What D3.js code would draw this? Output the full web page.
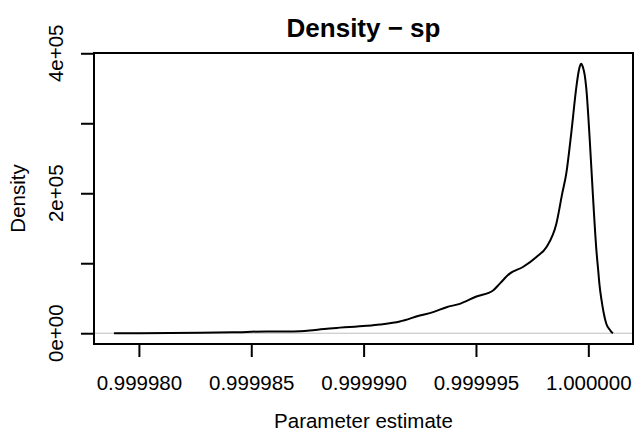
<!DOCTYPE html>
<html>
<head>
<meta charset="utf-8">
<script src="https://cdn.jsdelivr.net/npm/d3@7"></script>
<style>
  html, body { margin: 0; padding: 0; background: #fff; }
  svg { display: block; }
  text { font-family: "Liberation Sans", Arial, Helvetica, sans-serif; fill: #000; }
</style>
</head>
<body>
<script>
// ---- data ----
const title = "Density \u2212 sp";
const xLabel = "Parameter estimate";
const yLabel = "Density";

// parameter estimate values
const paramX = [
  0.99997889, 0.99998006, 0.99998139, 0.99998273, 0.99998420, 0.99998569,
  0.99998687, 0.99998775, 0.99998865, 0.99999013, 0.99999072, 0.99999161,
  0.99999250, 0.99999309, 0.99999369, 0.99999428, 0.99999502, 0.99999576,
  0.99999606, 0.99999650, 0.99999709, 0.99999769, 0.99999814, 0.99999858,
  0.99999884, 0.99999902, 0.99999924, 0.99999947, 0.99999955, 0.99999961,
  0.99999969, 0.99999976, 0.99999984, 0.99999991, 1.00000006, 1.00000020,
  1.00000036, 1.00000044, 1.00000050, 1.00000059, 1.00000068, 1.00000080,
  1.00000095, 1.00000104, 1.00000110
];
// density values
const densityY = [
  0, 100, 300, 600, 1300, 2600,
  2600, 4300, 7200, 10600, 12500, 16700,
  25300, 30100, 37200, 42000, 52500, 61100,
  70800, 85200, 94600, 108900, 123300, 156800,
  199800, 228400, 285700, 352400, 370400, 380000,
  385000, 380000, 368900, 349800, 278200, 199500,
  118400, 89800, 68300, 46800, 29600, 13500,
  5300, 1400, 0
];

const xTicks = [0.99998, 0.999985, 0.99999, 0.999995, 1.0];
const xTickLabels = ["0.999980", "0.999985", "0.999990", "0.999995", "1.000000"];
const yTicks = [0, 100000, 200000, 300000, 400000];
const yTickLabelValues = [0, 200000, 400000];
const yTickLabels = ["0e+00", "2e+05", "4e+05"];

// ---- layout ----
const W = 635, H = 431;
const box = { left: 94, right: 633, top: 53, bottom: 344 };

const svg = d3.select("body").append("svg")
  .attr("width", W).attr("height", H);

// R-style 4% padding of the data range
const xExt = d3.extent(paramX);
const xPad = (xExt[1] - xExt[0]) * 0.04;
const yExt = [0, d3.max(densityY)];
const yPad = (yExt[1] - yExt[0]) * 0.04;

const x = d3.scaleLinear()
  .domain([xExt[0] - xPad, xExt[1] + xPad])
  .range([box.left, box.right]);
const y = d3.scaleLinear()
  .domain([yExt[0] - yPad, yExt[1] + yPad])
  .range([box.bottom, box.top]);

// zero line (grey)
svg.append("line")
  .attr("x1", box.left).attr("x2", box.right)
  .attr("y1", y(0)).attr("y2", y(0))
  .attr("stroke", "#bebebe").attr("stroke-width", 1);

// density curve
const pts = paramX.map((v, i) => [v, densityY[i]]);
svg.append("path")
  .datum(pts)
  .attr("fill", "none")
  .attr("stroke", "#000")
  .attr("stroke-width", 2)
  .attr("stroke-linejoin", "round")
  .attr("d", d3.line().x(d => x(d[0])).y(d => y(d[1])).curve(d3.curveMonotoneX));

// plot box
svg.append("rect")
  .attr("x", box.left).attr("y", box.top)
  .attr("width", box.right - box.left).attr("height", box.bottom - box.top)
  .attr("fill", "none").attr("stroke", "#000").attr("stroke-width", 2);

// x axis
const xAxis = d3.axisBottom(x)
  .tickValues(xTicks)
  .tickSize(13)
  .tickSizeOuter(0)
  .tickPadding(0)
  .tickFormat(() => "");
const gx = svg.append("g")
  .attr("transform", `translate(0,${box.bottom})`)
  .call(xAxis);
gx.select(".domain")
  .attr("d", `M${x(xTicks[0])},0H${x(xTicks[xTicks.length - 1])}`)
  .attr("stroke", "#000").attr("stroke-width", 2);
gx.selectAll(".tick line").attr("stroke", "#000").attr("stroke-width", 2);
gx.selectAll(".tick").each(function(d, i) {
  d3.select(this).append("text")
    .attr("x", 0).attr("y", 390 - box.bottom)
    .attr("text-anchor", "middle")
    .style("font-size", "20.5px")
    .style("font-family", '"Liberation Sans", Arial, sans-serif')
    .attr("fill", "#000")
    .text(xTickLabels[i]);
});

// y axis
const yAxis = d3.axisLeft(y)
  .tickValues(yTicks)
  .tickSize(13)
  .tickSizeOuter(0)
  .tickFormat(() => "");
const gy = svg.append("g")
  .attr("transform", `translate(${box.left},0)`)
  .call(yAxis);
gy.select(".domain")
  .attr("d", `M0,${y(yTicks[0])}V${y(yTicks[yTicks.length - 1])}`)
  .attr("stroke", "#000").attr("stroke-width", 2);
gy.selectAll(".tick line").attr("stroke", "#000").attr("stroke-width", 2);

svg.append("g").selectAll("text")
  .data(yTickLabelValues)
  .join("text")
  .attr("transform", (d) => `translate(63,${y(d)}) rotate(-90)`)
  .attr("text-anchor", "middle")
  .style("font-size", "20.5px")
  .text((d, i) => yTickLabels[i]);

// axis titles
svg.append("text")
  .attr("x", (box.left + box.right) / 2).attr("y", 427.5)
  .attr("text-anchor", "middle")
  .style("font-size", "20.5px")
  .text(xLabel);

svg.append("text")
  .attr("transform", `translate(25,${(box.top + box.bottom) / 2}) rotate(-90)`)
  .attr("text-anchor", "middle")
  .style("font-size", "20.5px")
  .text(yLabel);

// title
svg.append("text")
  .attr("x", (box.left + box.right) / 2).attr("y", 37.3)
  .attr("text-anchor", "middle")
  .style("font-size", "26px")
  .style("font-weight", "bold")
  .text(title);
</script>
</body>
</html>
